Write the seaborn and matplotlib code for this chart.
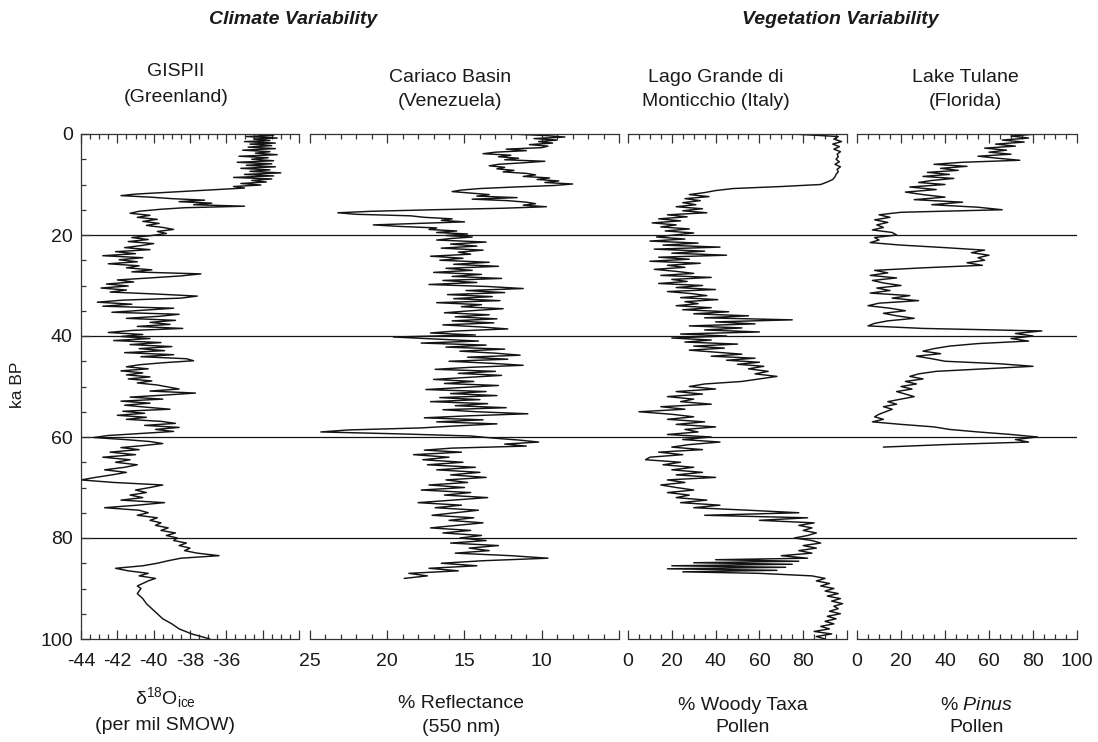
import numpy as np
import pandas as pd
import matplotlib
matplotlib.use("Agg")
import matplotlib.pyplot as plt
import seaborn as sns
from matplotlib.ticker import MultipleLocator

# ---------------- DATA ----------------
gisp_age = [0.0,0.3,0.5,0.8,1.0,1.3,1.5,1.8,2.0,2.3,
            2.6,2.9,3.2,3.5,3.8,4.1,4.4,4.7,5.0,5.3,
            5.6,5.9,6.2,6.5,6.8,7.1,7.4,7.7,8.0,8.3,
            8.6,8.9,9.2,9.5,9.8,10.1,10.4,10.7,11.0,11.3,
            11.6,11.9,12.2,12.5,12.8,13.1,13.4,13.7,14.0,14.3,
            14.6,14.9,15.3,15.7,16.1,16.5,16.9,17.3,17.7,18.1,
            18.5,18.9,19.3,19.7,20.1,20.5,20.9,21.3,21.7,22.1,
            22.5,22.9,23.3,23.7,24.1,24.5,24.9,25.3,25.7,26.1,
            26.5,26.9,27.3,27.7,28.1,28.5,28.9,29.3,29.7,30.1,
            30.5,30.9,31.3,31.7,32.1,32.5,32.9,33.3,33.7,34.1,
            34.5,34.9,35.3,35.7,36.1,36.5,36.9,37.3,37.7,38.1,
            38.5,38.9,39.3,39.7,40.1,40.5,40.9,41.3,41.7,42.1,
            42.5,42.9,43.3,43.7,44.1,44.5,44.9,45.3,45.7,46.1,
            46.5,46.9,47.3,47.7,48.1,48.5,48.9,49.3,49.7,50.1,
            50.5,50.9,51.3,51.7,52.1,52.5,52.9,53.3,53.7,54.1,
            54.5,54.9,55.3,55.7,56.1,56.5,56.9,57.3,57.7,58.1,
            58.5,58.9,59.3,59.7,60.1,60.5,60.9,61.3,61.7,62.1,
            62.5,63.0,63.5,64.0,64.5,65.0,65.5,66.0,66.5,67.0,
            67.5,68.0,68.5,69.0,69.5,70.0,70.5,71.0,71.5,72.0,
            72.5,73.0,73.5,74.0,74.5,75.0,75.5,76.0,76.5,77.0,
            77.5,78.0,78.5,79.0,79.5,80.0,80.5,81.0,81.5,82.0,
            82.5,83.0,83.5,84.0,84.5,85.0,85.5,86.0,86.5,87.0,
            87.5,88.0,88.5,89.0,89.5,90.0,91.0,92.0,93.0,94.0,
            95.0,96.0,97.0,98.0,99.0,100.0]
gisp_d18o = [-34.6,-33.4,-34.9,-33.2,-34.5,-33.6,-35.0,-33.3,-34.7,-33.5,
             -34.8,-33.3,-35.1,-33.6,-34.4,-33.2,-35.3,-33.7,-34.6,-33.4,
             -35.4,-33.5,-34.9,-33.3,-35.2,-33.6,-34.7,-33.0,-35.0,-33.4,
             -35.6,-33.5,-34.6,-33.8,-35.2,-34.1,-35.6,-35.0,-36.5,-38.0,
             -39.6,-41.0,-41.8,-40.2,-39.0,-37.2,-38.6,-36.8,-37.8,-35.0,
             -38.3,-39.6,-40.8,-41.3,-40.2,-40.9,-39.8,-40.6,-39.7,-40.4,
             -39.5,-38.9,-39.8,-39.3,-40.1,-41.2,-40.3,-41.4,-40.0,-40.7,
             -41.6,-40.2,-42.1,-41.0,-42.8,-40.6,-41.9,-40.9,-42.5,-40.8,
             -41.5,-40.1,-41.2,-37.4,-38.5,-40.2,-42.0,-41.1,-42.6,-41.4,
             -42.9,-41.5,-42.4,-39.8,-37.6,-38.5,-41.7,-43.1,-41.2,-42.8,
             -38.9,-40.6,-42.3,-38.6,-39.7,-41.5,-38.8,-40.2,-39.1,-40.9,
             -38.4,-41.2,-42.5,-40.6,-41.8,-40.2,-42.2,-39.6,-41.3,-39.0,
             -40.8,-39.4,-41.6,-38.9,-40.7,-38.2,-37.8,-39.5,-40.8,-41.5,
             -40.3,-41.8,-40.6,-41.5,-40.2,-41.4,-40.1,-40.9,-39.8,-39.2,
             -38.6,-40.2,-37.7,-39.4,-41.3,-39.5,-41.8,-40.2,-41.6,-40.4,
             -39.1,-41.7,-40.5,-42.0,-40.4,-41.5,-39.6,-38.8,-40.5,-38.6,
             -39.9,-38.9,-40.7,-42.5,-43.3,-41.6,-40.2,-39.5,-40.6,-41.8,
             -40.8,-42.4,-41.0,-42.8,-41.3,-42.1,-40.9,-41.6,-42.7,-41.5,
             -42.3,-43.2,-44.0,-42.2,-39.5,-40.2,-41.0,-40.4,-41.3,-40.6,
             -41.8,-39.4,-40.9,-42.7,-40.8,-40.3,-40.9,-39.8,-40.2,-39.6,
             -39.9,-39.2,-39.6,-38.8,-39.3,-38.7,-38.9,-38.2,-38.6,-38.0,
             -38.3,-37.6,-36.4,-38.5,-39.2,-39.8,-40.6,-42.1,-41.4,-40.3,
             -40.8,-39.9,-40.3,-40.6,-40.9,-40.7,-40.9,-40.6,-40.4,-40.1,
             -39.8,-39.5,-39.0,-38.6,-37.9,-36.9]

cariaco_age = [0.0,0.3,0.6,0.9,1.2,1.5,1.8,2.1,2.4,2.7,
               3.0,3.3,3.6,3.9,4.2,4.5,4.8,5.1,5.4,5.7,
               6.0,6.3,6.6,6.9,7.2,7.5,7.8,8.1,8.4,8.7,
               9.0,9.3,9.6,9.9,10.2,10.5,10.8,11.1,11.4,11.7,
               12.0,12.3,12.6,12.9,13.2,13.5,13.8,14.1,14.4,14.7,
               15.0,15.3,15.6,15.9,16.2,16.5,16.8,17.1,17.4,17.7,
               18.0,18.3,18.6,18.9,19.2,19.5,19.8,20.1,20.4,20.7,
               21.0,21.4,21.8,22.2,22.6,23.0,23.4,23.8,24.2,24.6,
               25.0,25.4,25.8,26.2,26.6,27.0,27.4,27.8,28.2,28.6,
               29.0,29.4,29.8,30.2,30.6,31.0,31.4,31.8,32.2,32.6,
               33.0,33.4,33.8,34.2,34.6,35.0,35.4,35.8,36.2,36.6,
               37.0,37.4,37.8,38.2,38.6,39.0,39.4,39.8,40.2,40.6,
               41.0,41.4,41.8,42.2,42.6,43.0,43.4,43.8,44.2,44.6,
               45.0,45.4,45.8,46.2,46.6,47.0,47.4,47.8,48.2,48.6,
               49.0,49.4,49.8,50.2,50.6,51.0,51.4,51.8,52.2,52.6,
               53.0,53.4,53.8,54.2,54.6,55.0,55.4,55.8,56.2,56.6,
               57.0,57.4,57.8,58.2,58.6,59.0,59.4,59.8,60.2,60.6,
               61.0,61.4,61.8,62.2,62.6,63.0,63.5,64.0,64.5,65.0,
               65.5,66.0,66.5,67.0,67.5,68.0,68.5,69.0,69.5,70.0,
               70.5,71.0,71.5,72.0,72.5,73.0,73.5,74.0,74.5,75.0,
               75.5,76.0,76.5,77.0,77.5,78.0,78.5,79.0,79.5,80.0,
               80.5,81.0,81.5,82.0,82.5,83.0,83.5,84.0,84.5,85.0,
               85.5,86.0,86.5,87.0,87.5,88.0]
cariaco_refl = [12.0,9.8,8.5,10.5,9.0,10.2,9.3,10.8,9.6,10.0,
                12.3,11.0,13.0,13.8,12.0,12.8,11.5,12.4,9.8,11.2,
                12.8,13.4,12.4,12.9,11.8,12.5,11.0,10.4,11.2,9.5,
                10.3,8.9,9.8,8.0,9.2,11.8,14.0,15.2,15.8,14.6,
                13.4,14.2,11.6,14.5,12.2,11.0,10.4,11.2,9.7,12.5,
                17.0,21.0,23.2,22.0,18.5,17.6,15.8,16.5,15.0,18.0,
                20.9,19.2,16.8,17.3,15.5,16.8,14.8,16.2,14.5,15.9,
                16.8,13.6,15.9,14.2,16.5,13.8,15.4,14.6,17.2,15.1,
                16.6,13.4,15.7,12.8,16.2,14.5,17.0,13.9,15.8,12.6,
                16.4,14.2,17.3,13.5,11.2,14.9,12.4,16.1,13.2,15.7,
                12.7,16.8,13.9,15.2,12.5,14.6,16.3,13.4,15.6,12.9,
                15.8,13.1,16.4,14.0,12.2,15.5,17.2,14.3,19.6,16.8,
                14.1,17.8,13.6,16.2,12.4,15.3,13.0,11.4,14.8,12.2,
                16.0,13.3,11.2,14.6,16.9,13.0,15.4,12.6,14.8,17.0,
                14.4,16.3,12.8,15.1,17.5,13.6,15.9,12.9,16.6,14.0,
                17.2,13.5,15.6,12.3,16.4,14.2,10.9,14.7,17.6,13.8,
                16.8,12.9,15.5,17.8,22.5,24.3,19.0,14.6,13.2,11.5,
                10.2,12.4,11.0,15.8,17.6,15.2,18.3,16.0,17.7,15.1,
                17.4,14.3,16.8,14.0,15.9,13.6,16.2,14.8,17.3,15.0,
                17.8,14.6,16.3,13.5,15.8,18.0,15.2,16.9,14.1,15.6,
                17.1,14.4,16.0,13.8,15.5,17.2,14.6,16.4,13.9,15.3,
                13.6,15.9,12.8,14.7,13.4,15.6,12.0,9.6,13.8,16.5,
                14.2,17.3,15.4,18.6,17.4,18.9]

monti_age = [0.0,0.5,1.0,1.5,2.0,2.5,3.0,3.5,4.0,4.5,
             5.0,5.5,6.0,6.5,7.0,7.5,8.0,8.5,9.0,9.5,
             10.0,10.4,10.8,11.2,11.6,12.0,12.4,12.8,13.2,13.6,
             14.0,14.4,14.8,15.2,15.6,16.0,16.4,16.8,17.2,17.6,
             18.0,18.4,18.8,19.2,19.6,20.0,20.4,20.8,21.2,21.6,
             22.0,22.4,22.8,23.2,23.6,24.0,24.4,24.8,25.2,25.6,
             26.0,26.4,26.8,27.2,27.6,28.0,28.4,28.8,29.2,29.6,
             30.0,30.4,30.8,31.2,31.6,32.0,32.4,32.8,33.2,33.6,
             34.0,34.4,34.8,35.2,35.6,36.0,36.4,36.8,37.2,37.6,
             38.0,38.4,38.8,39.2,39.6,40.0,40.4,40.8,41.2,41.6,
             42.0,42.4,42.8,43.2,43.6,44.0,44.4,44.8,45.2,45.6,
             46.0,46.5,47.0,47.5,48.0,48.5,49.0,49.5,50.0,50.5,
             51.0,51.5,52.0,52.5,53.0,53.5,54.0,54.5,55.0,55.5,
             56.0,56.5,57.0,57.5,58.0,58.5,59.0,59.5,60.0,60.5,
             61.0,61.5,62.0,62.5,63.0,63.5,64.0,64.5,65.0,65.5,
             66.0,66.5,67.0,67.5,68.0,68.5,69.0,69.5,70.0,70.5,
             71.0,71.5,72.0,72.5,73.0,73.5,74.0,74.5,75.0,75.5,
             76.0,76.5,77.0,77.5,78.0,78.5,79.0,79.5,80.0,80.5,
             81.0,81.5,82.0,82.5,83.0,83.5,84.0,84.3,84.6,84.9,
             85.2,85.5,85.8,86.1,86.4,86.7,87.0,87.5,88.0,88.5,
             89.0,89.5,90.0,90.5,91.0,91.5,92.0,92.5,93.0,93.5,
             94.0,94.5,95.0,95.5,96.0,96.5,97.0,97.5,98.0,98.5,
             99.0,99.5,100.0]
monti_woody = [75.0,96.0,94.0,97.5,93.5,96.5,94.0,97.0,95.5,96.0,
               95.0,96.5,94.5,97.0,95.5,96.0,95.0,94.5,93.5,91.0,
               88.0,70.0,48.0,40.0,35.0,28.0,37.0,26.0,33.0,25.0,
               31.0,22.0,34.0,25.0,36.0,18.0,27.0,14.0,24.0,11.0,
               22.0,15.0,28.0,17.0,30.0,21.0,13.0,26.0,10.0,32.0,
               16.0,42.0,12.0,35.0,20.0,45.0,14.0,28.0,10.0,33.0,
               18.0,26.0,12.0,22.0,30.0,15.0,38.0,20.0,27.0,14.0,
               34.0,22.0,40.0,18.0,29.0,36.0,24.0,41.0,26.0,32.0,
               22.0,38.0,25.0,46.0,30.0,55.0,35.0,75.0,40.0,58.0,
               28.0,52.0,35.0,60.0,24.0,45.0,20.0,38.0,26.0,50.0,
               30.0,44.0,28.0,40.0,52.0,38.0,58.0,45.0,60.0,50.0,
               62.0,55.0,64.0,58.0,68.0,60.0,52.0,35.0,28.0,40.0,
               22.0,34.0,18.0,30.0,24.0,38.0,15.0,26.0,5.0,20.0,
               30.0,18.0,35.0,22.0,40.0,26.0,32.0,18.0,38.0,25.0,
               42.0,28.0,20.0,34.0,14.0,25.0,10.0,8.0,24.0,16.0,
               30.0,20.0,34.0,22.0,40.0,18.0,26.0,15.0,22.0,30.0,
               18.0,28.0,22.0,36.0,24.0,42.0,30.0,55.0,78.0,35.0,
               82.0,60.0,85.0,78.0,84.0,80.0,86.0,82.0,76.0,84.0,
               88.0,80.0,86.0,78.0,84.0,70.0,82.0,40.0,78.0,30.0,
               75.0,20.0,72.0,18.0,68.0,25.0,60.0,84.0,90.0,86.0,
               92.0,88.0,94.0,90.0,96.0,91.0,97.0,93.0,98.0,94.0,
               96.0,92.0,97.0,91.0,95.0,90.0,94.0,88.0,92.0,85.0,
               93.0,86.0,90.0]

tulane_age = [0.0,0.4,0.8,1.2,1.6,2.0,2.4,2.8,3.2,3.6,
              4.0,4.4,4.8,5.2,5.6,6.0,6.4,6.8,7.2,7.6,
              8.0,8.4,8.8,9.2,9.6,10.0,10.5,11.0,11.5,12.0,
              12.5,13.0,13.5,14.0,14.5,15.0,15.5,16.0,16.5,17.0,
              17.5,18.0,18.5,19.0,19.5,20.0,20.5,21.0,21.5,22.0,
              22.5,23.0,23.5,24.0,24.5,25.0,25.5,26.0,26.5,27.0,
              27.5,28.0,28.5,29.0,29.5,30.0,30.5,31.0,31.5,32.0,
              32.5,33.0,33.5,34.0,34.5,35.0,35.5,36.0,36.5,37.0,
              37.5,38.0,38.5,39.0,39.5,40.0,40.5,41.0,41.5,42.0,
              42.5,43.0,43.5,44.0,44.5,45.0,45.5,46.0,46.5,47.0,
              47.5,48.0,48.5,49.0,49.5,50.0,50.5,51.0,51.5,52.0,
              52.5,53.0,53.5,54.0,54.5,55.0,55.5,56.0,56.5,57.0,
              57.5,58.0,58.5,59.0,59.5,60.0,60.5,61.0,61.5,62.0]
tulane_pinus = [82.0,70.0,78.0,66.0,76.0,63.0,72.0,58.0,68.0,60.0,
                70.0,55.0,64.0,74.0,48.0,35.0,50.0,38.0,46.0,32.0,
                42.0,30.0,44.0,34.0,28.0,40.0,24.0,36.0,22.0,30.0,
                40.0,26.0,48.0,34.0,55.0,66.0,20.0,10.0,15.0,8.0,
                14.0,9.0,12.0,7.0,16.0,18.0,8.0,10.0,6.0,20.0,
                40.0,58.0,52.0,60.0,55.0,58.0,50.0,57.0,30.0,8.0,
                14.0,6.0,18.0,7.0,12.0,20.0,9.0,15.0,6.0,24.0,
                16.0,28.0,10.0,5.0,15.0,22.0,12.0,18.0,26.0,14.0,
                8.0,5.0,30.0,84.0,72.0,80.0,70.0,78.0,55.0,42.0,
                35.0,30.0,38.0,27.0,34.0,40.0,65.0,80.0,58.0,36.0,
                28.0,24.0,30.0,22.0,27.0,20.0,25.0,18.0,22.0,26.0,
                20.0,14.0,18.0,12.0,16.0,13.0,10.0,8.0,12.0,7.0,
                20.0,35.0,42.0,55.0,70.0,82.0,72.0,78.0,40.0,12.0]

ref_lines_ka = [20, 40, 60, 80]
y_ticks = [0, 20, 40, 60, 80, 100]

site_titles = [("GISPII", "(Greenland)"), ("Cariaco Basin", "(Venezuela)"),
               ("Lago Grande di", "Monticchio (Italy)"), ("Lake Tulane", "(Florida)")]
axis_titles = [("δ$^{18}$O$_{\\rm ice}$", "(per mil SMOW)"), ("% Reflectance", "(550 nm)"),
               ("% Woody Taxa", "Pollen"), ("% $\\it{Pinus}$", "Pollen")]
group_titles = ["Climate Variability", "Vegetation Variability"]

# ---------------- STYLE ----------------
sns.set_theme(style="ticks")
plt.rcParams['font.family'] = ['Liberation Sans', 'DejaVu Sans']
plt.rcParams['mathtext.fontset'] = 'custom'
plt.rcParams['mathtext.rm'] = 'Liberation Sans'
plt.rcParams['mathtext.it'] = 'Liberation Sans:italic'
plt.rcParams['mathtext.bf'] = 'Liberation Sans:bold'

W, H = 1098, 742
fig = plt.figure(figsize=(W / 100, H / 100), dpi=100)
TOP, BOT = 134, 639

def rect(l, r):
    return [l / W, 1 - BOT / H, (r - l) / W, (BOT - TOP) / H]

panels = [
    dict(df=pd.DataFrame({"age": gisp_age, "v": gisp_d18o}), px=(81, 299),
         xlim=(-44, -32), major=[-44, -42, -40, -38, -36, -34, -32],
         labels=["-44", "-42", "-40", "-38", "-36", "", ""], minor=0.5),
    dict(df=pd.DataFrame({"age": cariaco_age, "v": cariaco_refl}), px=(310, 619),
         xlim=(25, 5), major=[25, 20, 15, 10, 5],
         labels=["25", "20", "15", "10", ""], minor=1),
    dict(df=pd.DataFrame({"age": monti_age, "v": monti_woody}), px=(628, 847),
         xlim=(0, 100), major=[0, 20, 40, 60, 80, 100],
         labels=["0", "20", "40", "60", "80", ""], minor=5),
    dict(df=pd.DataFrame({"age": tulane_age, "v": tulane_pinus}), px=(857, 1077),
         xlim=(0, 100), major=[0, 20, 40, 60, 80, 100],
         labels=["0", "20", "40", "60", "80", "100"], minor=5),
]

line_col = "#141414"
for i, p in enumerate(panels):
    ax = fig.add_axes(rect(*p["px"]))
    sns.lineplot(data=p["df"], x="v", y="age", sort=False, estimator=None,
                 color=line_col, lw=1.05, ax=ax)
    ax.set_xlim(*p["xlim"])
    ax.set_ylim(100, 0)
    ax.set_xlabel("")
    ax.set_ylabel("")
    ax.set_xticks(p["major"], labels=p["labels"])
    ax.xaxis.set_minor_locator(MultipleLocator(p["minor"]))
    ax.tick_params(axis="x", which="both", direction="in", top=True, bottom=True,
                   labeltop=False, colors="#333333", labelcolor="#1a1a1a", width=0.9)
    ax.tick_params(axis="x", which="major", length=6.5, labelsize=14, pad=10)
    ax.tick_params(axis="x", which="minor", length=3.5)
    for s in ["top", "bottom", "left"]:
        ax.spines[s].set_linewidth(0.9)
        ax.spines[s].set_color("#333333")
    ax.spines["right"].set_visible(False)
    if i == 0:
        ax.set_yticks(y_ticks)
        ax.yaxis.set_minor_locator(MultipleLocator(5))
        ax.tick_params(axis="y", which="both", direction="in", left=True, right=False,
                       colors="#333333", labelcolor="#1a1a1a", width=0.9)
        ax.tick_params(axis="y", which="major", length=6.5, labelsize=14, pad=6)
        ax.tick_params(axis="y", which="minor", length=3.5)
    else:
        ax.spines["left"].set_visible(False)
        ax.set_yticks([])
    ax.patch.set_alpha(0)

# horizontal reference lines spanning all panels
ov = fig.add_axes(rect(81, 1077), zorder=-1)
ov.set_ylim(100, 0)
ov.set_xlim(0, 1)
for y in ref_lines_ka:
    ov.axhline(y, color=line_col, lw=0.9)
ov.axis("off")

# texts
fs = 14
title_pos = [(176, 72, 98), (450, 77, 102), (716, 77, 102), (965, 77, 102)]
for (t1, t2), (x, y1, y2) in zip(site_titles, title_pos):
    fig.text(x / W, 1 - y1 / H, t1, ha="center", va="center", fontsize=fs, color="#1a1a1a")
    fig.text(x / W, 1 - y2 / H, t2, ha="center", va="center", fontsize=fs, color="#1a1a1a")

xl_pos = [(165, 698, 725), (461, 703, 728), (743, 705, 728), (977, 705, 728)]
for (t1, t2), (x, y1, y2) in zip(axis_titles, xl_pos):
    fig.text(x / W, 1 - y1 / H, t1, ha="center", va="center", fontsize=fs, color="#1a1a1a")
    fig.text(x / W, 1 - y2 / H, t2, ha="center", va="center", fontsize=fs, color="#1a1a1a")

fig.text(293 / W, 1 - 20 / H, group_titles[0], ha="center", va="center",
         fontsize=fs, fontweight="bold", fontstyle="italic", color="#1a1a1a")
fig.text(840 / W, 1 - 20 / H, group_titles[1], ha="center", va="center",
         fontsize=fs, fontweight="bold", fontstyle="italic", color="#1a1a1a")

fig.text(18 / W, 1 - 385 / H, "ka BP", rotation=90, ha="center", va="center",
         fontsize=12.5, color="#1a1a1a")

fig.savefig("out.png", dpi=100)
